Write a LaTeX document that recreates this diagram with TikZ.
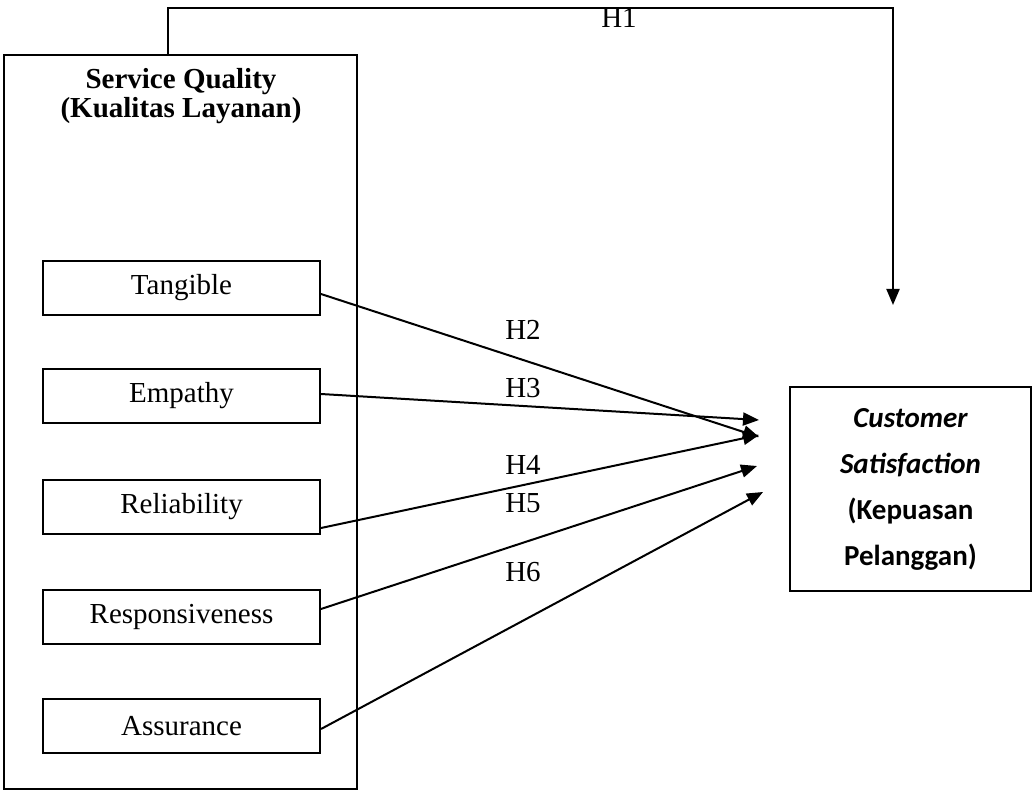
\documentclass[tikz,border=0pt]{standalone}
\usepackage{fontspec}
\setmainfont{Liberation Serif}
\newfontfamily\calib{Carlito}
\usetikzlibrary{arrows.meta}
\tikzset{
	dim/.style={draw,line width=1pt,minimum width=138.5pt,minimum height=27pt,inner sep=0pt},
	hyp/.style={line width=1pt,-{Triangle[length=8pt,width=6.5pt]}},
	hlab/.style={inner sep=0pt}
}

\begin{document}
\begin{tikzpicture}[x=0.5pt,y=-0.5pt,font=\fontsize{14.5}{14.5}\selectfont]
	\useasboundingbox (0,0) rectangle (1033,791);
	\node [draw,line width=1pt,minimum width=176.5pt,minimum height=367pt] (sq) at (180.5,422) {};
	\node [align=center,font=\fontsize{14.5}{14.5}\selectfont\bfseries] (sqtitle) at (181,96) {Service Quality\\(Kualitas Layanan)};

	\node [dim] (tang) at (181.5,288) {Tangible};
	\node [dim] (emp) at (181.5,396) {Empathy};
	\node [dim] (rel) at (181.5,507) {Reliability};
	\node [dim] (resp) at (181.5,617) {Responsiveness};
	\node [dim] (ass) at (181.5,726) {Assurance};

	\node [draw,line width=1pt,minimum width=120.5pt,minimum height=102pt,align=center,font=\fontsize{14.5}{23}\calib\bfseries] (cs) at (910.5,489) {\itshape Customer\\\itshape Satisfaction\\(Kepuasan\\Pelanggan)};

	\coordinate (h1end) at (893,305);
	\coordinate (e2) at (759,437);
	\coordinate (e3) at (759,420);
	\coordinate (e4) at (759,435);
	\coordinate (e5) at (757,466);
	\coordinate (e6) at (763,492);

	\draw [hyp] ([xshift=-6.5pt]sq.north) -- ++(0,-46) -| (h1end);
	\draw [hyp] ([yshift=-3pt]tang.east) -- (e2);
	\draw [hyp] ([yshift=1pt]emp.east) -- (e3);
	\draw [hyp] ([yshift=-10.5pt]rel.east) -- (e4);
	\draw [hyp] ([yshift=4pt]resp.east) -- (e5);
	\draw [hyp] ([yshift=-1.5pt]ass.east) -- (e6);

	\node [hlab] (h1) at (619,18) {H1};
	\node [hlab] (h2) at (523,330) {H2};
	\node [hlab] (h3) at (523,388) {H3};
	\node [hlab] (h4) at (523,465) {H4};
	\node [hlab] (h5) at (523,503) {H5};
	\node [hlab] (h6) at (523,572) {H6};
\end{tikzpicture}
\end{document}
